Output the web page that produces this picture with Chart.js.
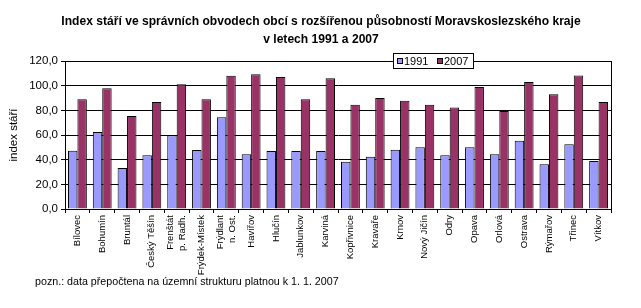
<!DOCTYPE html>
<html>
<head>
<meta charset="utf-8">
<script src="https://cdn.jsdelivr.net/npm/chart.js@4"></script>
<style>
  html, body { margin: 0; padding: 0; background: #fff; }
  #wrap { width: 641px; height: 308px; }
</style>
</head>
<body>
<div id="wrap"><canvas id="chart" width="641" height="308"></canvas></div>
<script>
// data
const categories = ["Bílovec", "Bohumín", "Bruntál", "Český Těšín", ["Frenštát", "p. Radh."],
  "Frýdek-Místek", ["Frýdlant", "n. Ost."], "Havířov", "Hlučín", "Jablunkov", "Karviná",
  "Kopřivnice", "Kravaře", "Krnov", "Nový Jičín", "Odry", "Opava", "Orlová", "Ostrava",
  "Rýmařov", "Třinec", "Vítkov"];
const values1991 = [47.3, 62.4, 33.2, 43.6, 59.8, 47.9, 74.4, 44.4, 47.1, 47.1, 47.1,
  38.4, 42.4, 48.0, 50.1, 43.6, 50.1, 44.4, 55.3, 36.3, 52.6, 38.9];
const values2007 = [89.0, 98.0, 75.5, 86.8, 101.2, 89.0, 108.0, 109.3, 107.0, 89.0, 106.0,
  84.5, 90.0, 87.8, 84.5, 82.2, 99.0, 79.5, 103.0, 93.0, 108.3, 86.8];
const seriesNames = ["1991", "2007"];
const yTicks = [0, 20, 40, 60, 80, 100, 120];

const titleLines = ["Index stáří ve správních obvodech obcí s rozšířenou působností Moravskoslezského kraje",
  "v letech 1991 a 2007"];
const yTitle = "index stáří";
const note = "pozn.: data přepočtena na územní strukturu platnou k 1. 1. 2007";

const blue = "#9999FF";
const maroon = "#993366";
const fontFam = "'Liberation Sans', Arial, sans-serif";

// two-line category labels: centre both lines on the tick
const centreLabels = {
  id: "centreLabels",
  beforeDraw(chart) {
    const scale = chart.scales.x;
    const items = scale.getLabelItems();
    items.forEach((it) => {
      if (Array.isArray(it.label) && !it.shifted) {
        const lh = it.font.lineHeight;
        it.options.translation[0] -= (it.label.length - 1) * lh / 2;
        it.shifted = true;
      }
    });
  }
};

// title, frame, legend and footnote
const extras = {
  id: "extras",
  afterDraw(chart) {
    const ctx = chart.ctx;
    const a = chart.chartArea;
    ctx.save();
    ctx.strokeStyle = "#000";
    ctx.lineWidth = 1;
    ctx.strokeRect(Math.round(a.left) + 0.5, Math.round(a.top) + 0.5,
      Math.round(a.right - a.left), Math.round(a.bottom - a.top));

    ctx.fillStyle = "#000";
    ctx.textAlign = "center";
    ctx.textBaseline = "middle";
    ctx.font = "bold 13px " + fontFam;
    ctx.save();
    ctx.translate(321, 0);
    ctx.scale(0.93, 1);
    ctx.fillText(titleLines[0], 0, 21);
    ctx.fillText(titleLines[1], 0, 39);
    ctx.restore();

    // legend
    const lx = 393, ly = 53, lw = 80, lh = 15;
    ctx.fillStyle = "#fff";
    ctx.fillRect(lx, ly, lw, lh);
    ctx.strokeRect(lx + 0.5, ly + 0.5, lw, lh);
    ctx.font = "11px " + fontFam;
    ctx.textAlign = "left";
    const cols = [blue, maroon];
    const xs = [lx + 4, lx + 44];
    for (let i = 0; i < 2; i++) {
      ctx.fillStyle = cols[i];
      ctx.fillRect(xs[i], ly + 5, 6, 6);
      ctx.strokeRect(xs[i] + 0.5, ly + 5.5, 5, 5);
      ctx.fillStyle = "#000";
      ctx.fillText(seriesNames[i], xs[i] + 7, ly + 8.5);
    }

    ctx.font = "10.7px " + fontFam;
    ctx.fillText(note, 35, 282);
    ctx.restore();
  }
};

const chart = new Chart(document.getElementById("chart").getContext("2d"), {
  type: "bar",
  data: {
    labels: categories,
    datasets: [{
      label: seriesNames[0],
      data: values1991,
      backgroundColor: blue,
      borderColor: "#000",
      borderWidth: 1
    },
    {
      label: seriesNames[1],
      data: values2007,
      backgroundColor: maroon,
      borderColor: "#000",
      borderWidth: 1
    }]
  },
  options: {
    responsive: false,
    animation: false,
    layout: { padding: { left: 0, right: 30, top: 61, bottom: 0 } },
    datasets: { bar: { categoryPercentage: 0.76, barPercentage: 1.0 } },
    plugins: {
      legend: { display: false },
      title: { display: false },
      tooltip: { enabled: false }
    },
    scales: {
      x: {
        afterFit: (s) => { s.height = 99; },
        border: { display: true, color: "#000", width: 1 },
        grid: { offset: true, drawOnChartArea: false, drawTicks: true, tickLength: 4, color: "#000" },
        ticks: {
          minRotation: 90,
          maxRotation: 90,
          autoSkip: false,
          padding: 2,
          color: "#000",
          font: { family: fontFam, size: 9.5, lineHeight: 1.25 }
        }
      },
      y: {
        min: 0,
        max: 120,
        afterFit: (s) => { s.width = 65; },
        afterBuildTicks: (s) => { s.ticks = yTicks.map(v => ({ value: v })); },
        border: { display: true, color: "#000", width: 1 },
        grid: {
          color: (c) => (c.tick && (c.tick.value === 0 || c.tick.value === 120)) ? "rgba(0,0,0,0)" : "#000",
          tickColor: "#000",
          borderDash: [4, 3],
          tickBorderDash: [],
          tickLength: 4
        },
        ticks: {
          padding: 3,
          color: "#000",
          callback: (v) => Number(v).toFixed(1).replace(".", ","),
          font: { family: fontFam, size: 11.5 }
        },
        title: {
          display: true,
          text: yTitle,
          color: "#000",
          padding: { top: 7, bottom: 0 },
          font: { family: fontFam, size: 11.5 }
        }
      }
    }
  },
  plugins: [centreLabels, extras]
});
</script>
</body>
</html>
